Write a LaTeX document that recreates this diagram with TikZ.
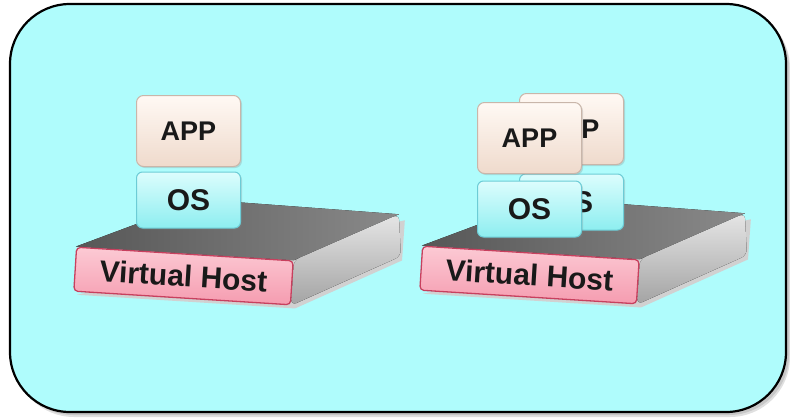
\documentclass[tikz,border=0pt]{standalone}
\usepackage{fontspec}
\setmainfont{Liberation Sans}
\usetikzlibrary{calc,shadows}
\definecolor{bgc}{HTML}{AFFCFC}
\definecolor{pinkT}{HTML}{FCCAD4}
\definecolor{pinkB}{HTML}{F59CB0}
\definecolor{pinkD}{HTML}{C8405E}
\definecolor{osT}{HTML}{DCFDFD}
\definecolor{osB}{HTML}{8DEEF0}
\definecolor{osD}{HTML}{6CCCD6}
\definecolor{appT}{HTML}{FFF9F4}
\definecolor{appB}{HTML}{EFDACC}
\definecolor{appD}{HTML}{C9B6AA}
\pgfdeclarelayer{frame}
\pgfdeclarelayer{faces}
\pgfsetlayers{frame,faces,main}
\tikzset{
  hostface/.style={draw=pinkD, line width=1.3pt, rounded corners=4pt,
    top color=pinkT, bottom color=pinkB, minimum width=217pt, minimum height=44pt,
    inner sep=0pt, font=\bfseries\fontsize{30}{30}\selectfont, text=black!90},
  osbox/.style={draw=osD, line width=1pt, rounded corners=6pt,
    top color=osT, bottom color=osB, minimum width=104pt, minimum height=56pt,
    inner sep=0pt, font=\bfseries\fontsize{30}{30}\selectfont, text=black!90,
    drop shadow={opacity=0.25, shadow xshift=1.5pt, shadow yshift=-1.5pt}},
  appbox/.style={draw=appD, line width=1pt, rounded corners=7pt,
    top color=appT, bottom color=appB, minimum width=104pt, minimum height=71pt,
    inner sep=0pt, font=\bfseries\fontsize{27}{27}\selectfont, text=black!90,
    drop shadow={opacity=0.25, shadow xshift=1.5pt, shadow yshift=-1.5pt}},
  topface/.style={left color=black!66, right color=black!46},
  sideface/.style={top color=black!10, bottom color=black!36, rounded corners=6pt},
}
\begin{document}
\begin{tikzpicture}[x=1pt,y=-1pt]
\useasboundingbox (0,0) rectangle (790,418);
\begin{pgfonlayer}{frame}
  \fill[black!12, rounded corners=60pt] (14,8) rectangle (790,417);
  \fill[black!22, rounded corners=60pt] (13,7) rectangle (789,415);
  \draw[line width=2.2pt, fill=bgc, rounded corners=60pt] (10,4) rectangle (786,412);
\end{pgfonlayer}
\foreach \i/\dx/\dy in {1/0/0, 2/346/-1}{
  \node[hostface, rotate=-3.6] (vh\i) at (183.5+\dx,276+\dy) {Virtual Host};
  \begin{pgfonlayer}{faces}
    \fill[black!18] ($(vh\i.south west)+(4,3)$) -- ($(vh\i.south east)+(4,3)$)
       -- ($(vh\i.south east)+(111,-45)$) -- ($(vh\i.north east)+(111,-40)$) -- cycle;
    \fill[topface] (vh\i.north west) -- ++(126,-47)
       -- ($(vh\i.north east)+(105,-46)$) -- (vh\i.north east) -- cycle;
    \fill[sideface] (vh\i.north east) -- ($(vh\i.north east)+(105,-46)$)
       -- ($(vh\i.north east)+(107,-4)$) -- (vh\i.south east) -- cycle;
  \end{pgfonlayer}
}
% left stack
\node[osbox]  (os1)  at (188.5,200) {OS};
\node[appbox] (app1) at (188.5,131) {APP};
% right stack: back
\node[osbox]  (os2b)  at (571.5,202) {OS};
\node[appbox] (app2b) at (571.5,129) {APP};
% right stack: front
\node[osbox]  (os2)  at (529.5,209) {OS};
\node[appbox] (app2) at (529.5,138) {APP};
\end{tikzpicture}
\end{document}
